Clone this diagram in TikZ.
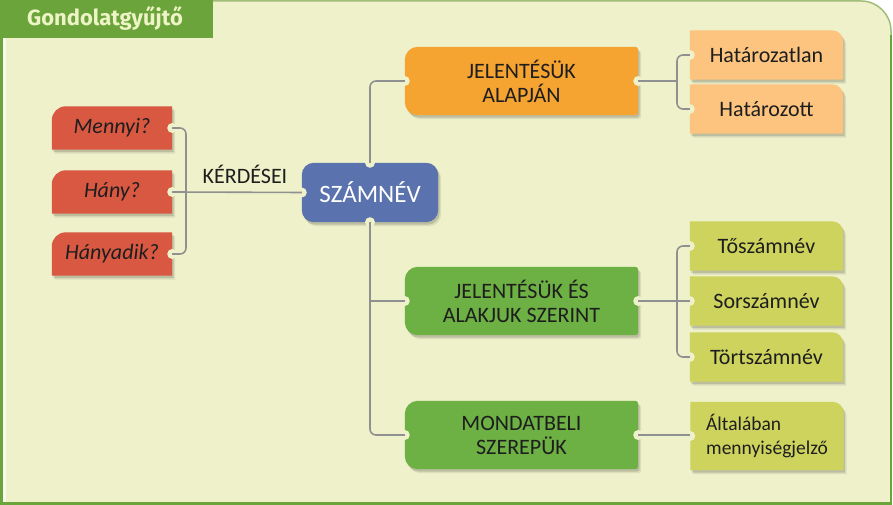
\documentclass[tikz,border=0pt]{standalone}
\usepackage{fontspec}
\setmainfont{Carlito}
\newfontfamily\titlefont{Fira Sans}
\usetikzlibrary{calc}
\definecolor{bgc}{RGB}{238,241,202}
\definecolor{framec}{RGB}{107,164,59}
\definecolor{topc}{RGB}{160,190,120}
\definecolor{titletxt}{RGB}{238,244,198}
\definecolor{redc}{RGB}{216,88,66}
\definecolor{bluec}{RGB}{90,114,174}
\definecolor{orc}{RGB}{245,163,49}
\definecolor{grc}{RGB}{109,176,68}
\definecolor{lorc}{RGB}{252,196,127}
\definecolor{ygc}{RGB}{205,211,93}
\definecolor{linec}{RGB}{143,145,145}
\definecolor{txtc}{RGB}{30,30,30}
\pgfdeclarelayer{framelayer}
\pgfdeclarelayer{background}
\pgfsetlayers{framelayer,background,main}
% #1 node, #2 tl, #3 tr, #4 br, #5 bl, #6 dx, #7 dy
\newcommand\boxpath[7]{($(#1.north west)+(#2pt+#6pt,#7pt)$) -- ($(#1.north east)+(-#3pt+#6pt,#7pt)$) arc[start angle=90,end angle=0,radius=#3pt] -- ($(#1.south east)+(#6pt,#4pt+#7pt)$) arc[start angle=0,end angle=-90,radius=#4pt] -- ($(#1.south west)+(#5pt+#6pt,#7pt)$) arc[start angle=270,end angle=180,radius=#5pt] -- ($(#1.north west)+(#6pt,-#2pt+#7pt)$) arc[start angle=180,end angle=90,radius=#2pt] -- cycle}
\newcommand\shapeit[6]{%
  \fill[black,opacity=.08] \boxpath{#1}{#3}{#4}{#5}{#6}{3}{-4};
  \fill[black,opacity=.14] \boxpath{#1}{#3}{#4}{#5}{#6}{1.5}{-2.5};
  \fill[#2] \boxpath{#1}{#3}{#4}{#5}{#6}{0}{0};}
\newcommand\notch[1]{\fill[bgc] (#1) circle[radius=5pt];}
\tikzset{
  txt/.style={inner sep=0pt, text=txtc, font=\fontsize{22}{24}\selectfont, align=center},
  redbox/.style={txt, minimum width=120pt, minimum height=43pt, font=\fontsize{22}{24}\selectfont\itshape},
  midbox/.style={txt, minimum width=233pt, minimum height=68pt},
  rbox/.style={txt, minimum width=153pt, minimum height=49pt},
  conn/.style={draw=linec, line width=1.6pt, rounded corners=6pt},
}
\begin{document}
\begin{tikzpicture}[x=1pt,y=1pt]
\useasboundingbox (0,0) rectangle (893,505);
% frame
\begin{pgfonlayer}{framelayer}
\fill[white] (0,0) rectangle (893,505);
\fill[bgc] (0,0) -- (891,0) -- (891,474) arc[start angle=0,end angle=90,radius=30] -- (0,504) -- cycle;
\fill[white!60!bgc] (2.5,0) rectangle (6,505);
\draw[topc, line width=1.5pt] (200,504) -- (861,504) arc[start angle=90,end angle=0,radius=30] -- (891,460);
\draw[framec, line width=2.5pt] (891,470) -- (891,1.25) -- (0,1.25);
\draw[framec, line width=2.5pt] (1.25,0) -- (1.25,505);
\fill[framec] (0,505) rectangle (213,467);
\end{pgfonlayer}
\node[text=titletxt, font=\titlefont\bfseries\fontsize{22}{24}\selectfont, inner sep=0pt] (title) at (105,487) {Gondolatgyűjtő};
% nodes
\node[redbox] (m1) at (112,377) {Mennyi?};
\node[redbox] (m2) at (112,313) {Hány?};
\node[redbox] (m3) at (112,251) {Hányadik?};
\node[txt, minimum width=136pt, minimum height=59pt, text=white, font=\fontsize{25}{28}\selectfont] (szam) at (370,312.5) {SZÁMNÉV};
\node[midbox] (or) at (521.5,424) {JELENTÉSÜK\\ALAPJÁN};
\node[midbox] (gr1) at (521.5,204) {JELENTÉSÜK ÉS\\ALAKJUK SZERINT};
\node[midbox] (gr2) at (521.5,70) {MONDATBELI\\SZEREPÜK};
\node[rbox] (h1) at (766.5,450) {Határozatlan};
\node[rbox] (h2) at (766.5,396) {Határozott};
\node[rbox] (t1) at (766.5,259) {Tőszámnév};
\node[rbox] (t2) at (766.5,204) {Sorszámnév};
\node[rbox] (t3) at (766.5,148) {Törtszámnév};
\node[rbox, minimum height=68pt, align=left, font=\fontsize{19.5}{24.5}\selectfont] (alt) at (767,69) {Általában\\mennyiségjelző};
\node[txt, anchor=base] (kerd) at (245,321) {KÉRDÉSEI};
% shapes
\begin{pgfonlayer}{background}
\foreach \n in {m1,m2,m3}{\shapeit{\n}{redc}{14}{0.01}{0.01}{0.01}\notch{\n.east}}
\shapeit{szam}{bluec}{12}{12}{12}{12}
\notch{szam.west}\notch{szam.north}\notch{szam.south}
\shapeit{or}{orc}{13}{3}{3}{13}
\shapeit{gr1}{grc}{13}{3}{3}{13}
\shapeit{gr2}{grc}{13}{3}{3}{13}
\foreach \n in {or,gr1,gr2}{\notch{\n.west}\notch{\n.east}}
\foreach \n in {h1,h2}{\shapeit{\n}{lorc}{0.01}{11}{0.01}{0.01}\notch{\n.west}}
\foreach \n in {t1,t2,t3,alt}{\shapeit{\n}{ygc}{0.01}{11}{0.01}{0.01}\notch{\n.west}}
\end{pgfonlayer}
% connectors
\coordinate (kb) at (186,313);
\coordinate (rb1) at (677,424);
\coordinate (rb2) at (677,204);
\draw[conn] (m1.east) -| (kb) |- (m3.east);
\draw[conn] (m2.east) -- (szam.west);
\draw[conn] (szam.north) |- (or.west);
\draw[conn] (szam.south) |- (gr2.west);
\draw[conn] (gr1.west) -- (gr1.west -| szam.south);
\draw[conn] (or.east) -- (rb1);
\draw[conn] (h1.west) -| (rb1) |- (h2.west);
\draw[conn] (gr1.east) -- (t2.west);
\draw[conn] (t1.west) -| (rb2) |- (t3.west);
\draw[conn] (gr2.east) -- (gr2.east -| alt.west);
\end{tikzpicture}
\end{document}
